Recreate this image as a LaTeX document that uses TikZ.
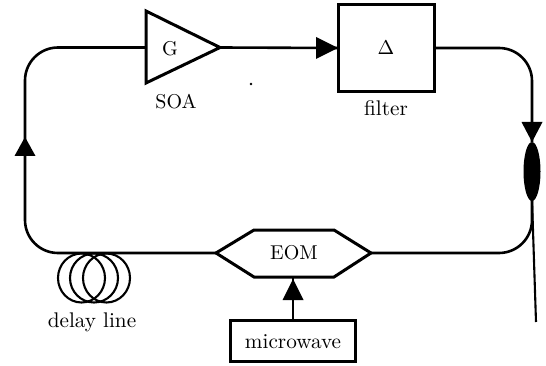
\documentclass[tikz,border=0pt]{standalone}
\usetikzlibrary{arrows.meta,calc}
\tikzset{
  wire/.style={line width=2.6pt,line join=miter},
  body/.style={line width=3pt,line join=miter},
  thin wire/.style={line width=2.1pt},
  label/.style={inner sep=0pt,scale=2.12},
  capslabel/.style={inner sep=0pt,scale=2.0},
  head/.style={fill=black,draw=none},
}
\begin{document}
\begin{tikzpicture}[x=1pt,y=-1pt]
\useasboundingbox (0,0) rectangle (546,366);
% named anchor points
\coordinate (soaW) at (146,47.5);
\coordinate (soaE) at (220,47.5);
\coordinate (soaN) at (146,11);
\coordinate (soaS) at (146,83);
\coordinate (eomW) at (216,253);
\coordinate (eomE) at (371,253);
\coordinate (eomS) at (293,278);
\coordinate (tap) at (532,142);
\coordinate (tapEnd) at (536,322);
\coordinate (leftArrow) at (25,137);
% blocks
\node[draw,body,minimum width=96pt,minimum height=87pt,inner sep=0pt] (filter) at (386.5,48) {};
\node[draw,body,minimum width=125pt,minimum height=41pt,inner sep=0pt] (mw) at (293,341) {};
\draw[body] (soaN) -- (soaE) -- (soaS) -- cycle;
\draw[body] (eomW) -- (254,230) -- (334,230) -- (eomE) -- (334,277) -- (254,277) -- cycle;
% loop
\draw[wire] (soaE) -- (filter.west);
\draw[wire,rounded corners=33pt] (filter.east) -- (532,48) -- (tap);
\draw[wire,rounded corners=33pt] (eomE) -- (532,253) -- (532,190);
\draw[wire,rounded corners=33pt] (eomW) -- (25,253) -- (25,47.5) -- (soaW);
\draw[wire] (mw.north) -- (eomS);
% fibre tail
\draw[thin wire] (532,200) -- (tapEnd);
% arrowheads
\fill[head] (338,48) -- (316,37) -- (316,59) -- cycle;
\fill[head] (tap) -- (521.5,122) -- (542.5,122) -- cycle;
\fill[head] (leftArrow) -- (14.5,156) -- (35.5,156) -- cycle;
\fill[head] (293,279) -- (282.5,300) -- (303.5,300) -- cycle;
% coupler
\fill[black] (532,171.5) ellipse [x radius=8.5pt,y radius=29.5pt];
% delay coil
\draw[thin wire] (81.5,278) ellipse [x radius=23.5pt,y radius=24.5pt];
\draw[thin wire] (94,278) ellipse [x radius=24pt,y radius=24.5pt];
\draw[thin wire] (106.5,278) ellipse [x radius=23.5pt,y radius=24.5pt];
% stray dot
\fill[black] (251,84) circle (1.3pt);
% labels
\node[capslabel] (g) at (170,49) {G};
\node[capslabel] (soa) at (176,102) {SOA};
\node[capslabel] (delta) at (386,48) {$\Delta$};
\node[label] (ft) at (386,108) {filter};
\node[capslabel] (eom) at (294,253) {EOM};
\node[label] (mwt) at (293,341.5) {microwave};
\node[label] (dl) at (92,322) {delay line};
\end{tikzpicture}
\end{document}
